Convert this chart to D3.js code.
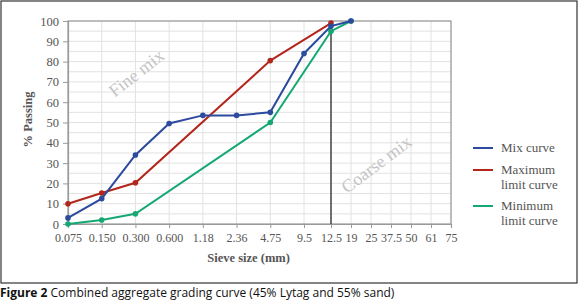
<!DOCTYPE html>
<html>
<head>
<meta charset="utf-8">
<script src="https://cdn.jsdelivr.net/npm/d3@7"></script>
<style>
  body { margin: 0; background: #fff; }
  svg { display: block; }
</style>
</head>
<body>
<div id="chart"></div>
<script>
// Sieve sizes (categories on the x axis)
const sieves = ['0.075', '0.150', '0.300', '0.600', '1.18', '2.36', '4.75', '9.5', '12.5', '19', '25', '37.5', '50', '61', '75']

// % passing for each curve
const mixCurve = [
  ['0.075', 3], ['0.150', 12.5], ['0.300', 34], ['0.600', 49.5], ['1.18', 53.5],
  ['2.36', 53.5], ['4.75', 55], ['9.5', 84], ['12.5', 97.5], ['19', 100]
]
const maxCurve = [
  ['0.075', 10], ['0.150', 15.3], ['0.300', 20.3], ['4.75', 80.5], ['12.5', 99]
]
const minCurve = [
  ['0.075', 0], ['0.150', 2], ['0.300', 5], ['4.75', 50], ['12.5', 95], ['19', 100]
]

const yTicks = [0, 10, 20, 30, 40, 50, 60, 70, 80, 90, 100]

const COLORS = {
  mix: '#2c4a9e',
  max: '#b3261c',
  min: '#16a873',
  grid: '#e2e2e2',
  frame: '#9a9a9a',
  text: '#555',
  divider: '#444'
}

const series = [
  { key: 'mix', label: ['Mix curve'], values: mixCurve },
  { key: 'max', label: ['Maximum', 'limit curve'], values: maxCurve },
  { key: 'min', label: ['Minimum', 'limit curve'], values: minCurve }
]

const W = 580, H = 300
const m = { left: 68, top: 21, right: 129, bottom: 76 }
const innerW = W - m.left - m.right
const innerH = H - m.top - m.bottom
const serif = "'Liberation Serif', 'DejaVu Serif', serif"

const svg = d3.select('#chart').append('svg')
  .attr('width', W).attr('height', H)

// cadre extérieur
svg.append('rect')
  .attr('x', 1).attr('y', 1).attr('width', 576).attr('height', 282)
  .attr('fill', 'none').attr('stroke', '#333').attr('stroke-width', 1.2)

const g = svg.append('g').attr('transform', `translate(${m.left},${m.top})`)

// x : espacement irrégulier — pas large jusqu'à 9.5, puis plus serré
const idx = d3.scaleLinear()
  .domain([0, 7, 8, 14])
  .range([0, innerW * 236 / 383, innerW * 263 / 383, innerW])
const x = s => idx(sieves.indexOf(s))

const y = d3.scaleLinear().domain([0, 100]).range([innerH, 0])

// grille horizontale (tous les 5 %)
g.append('g')
  .selectAll('line')
  .data(d3.range(5, 101, 5))
  .join('line')
  .attr('x1', 0).attr('x2', innerW)
  .attr('y1', d => y(d)).attr('y2', d => y(d))
  .attr('stroke', COLORS.grid).attr('stroke-width', 1)

// grille verticale
g.append('g')
  .selectAll('line')
  .data(sieves.slice(1))
  .join('line')
  .attr('x1', d => x(d)).attr('x2', d => x(d))
  .attr('y1', 0).attr('y2', innerH)
  .attr('stroke', COLORS.grid).attr('stroke-width', 1)

// textes en filigrane
g.append('text')
  .attr('transform', `translate(${x('0.600') - 29},${y(72)}) rotate(-38)`)
  .attr('text-anchor', 'middle')
  .attr('font-family', serif).attr('font-size', 18)
  .attr('fill', '#c4c4c4')
  .text('Fine mix')

g.append('text')
  .attr('transform', `translate(${x('37.5') - 11},${y(27)}) rotate(-37)`)
  .attr('text-anchor', 'middle')
  .attr('font-family', serif).attr('font-size', 18)
  .attr('fill', '#c4c4c4')
  .text('Coarse mix')

// cadre de la zone de tracé
g.append('rect')
  .attr('width', innerW).attr('height', innerH)
  .attr('fill', 'none').attr('stroke', COLORS.frame).attr('stroke-width', 1.2)

// séparation fin / gros à 12.5 mm
g.append('line')
  .attr('x1', x('12.5')).attr('x2', x('12.5'))
  .attr('y1', 0).attr('y2', innerH)
  .attr('stroke', COLORS.divider).attr('stroke-width', 1.5)

// Axe Y
g.append('g')
  .call(d3.axisLeft(y).tickValues(yTicks).tickSize(5).tickPadding(4))
  .call(a => a.select('.domain').attr('stroke', COLORS.frame).attr('stroke-width', 1.2))
  .call(a => a.selectAll('.tick line').attr('stroke', COLORS.frame))
  .call(a => a.selectAll('.tick text')
    .attr('fill', COLORS.text).attr('font-family', serif).attr('font-size', 12.5))

// Axe X
g.append('g')
  .attr('transform', `translate(0,${innerH})`)
  .call(d3.axisBottom(idx).tickValues(d3.range(sieves.length))
    .tickFormat(i => sieves[i]).tickSize(4).tickPadding(5))
  .call(a => a.select('.domain').attr('stroke', COLORS.frame).attr('stroke-width', 1.2))
  .call(a => a.selectAll('.tick line').attr('stroke', COLORS.frame))
  .call(a => a.selectAll('.tick text')
    .attr('fill', COLORS.text).attr('font-family', serif).attr('font-size', 12))

// titres des axes
g.append('text')
  .attr('x', x('2.36') + 12).attr('y', innerH + 38)
  .attr('text-anchor', 'middle')
  .attr('font-family', serif).attr('font-size', 12.5).attr('font-weight', 'bold')
  .attr('fill', COLORS.text)
  .text('Sieve size (mm)')

g.append('text')
  .attr('transform', `translate(-36,${innerH / 2 - 3}) rotate(-90)`)
  .attr('text-anchor', 'middle')
  .attr('font-family', serif).attr('font-size', 12.5).attr('font-weight', 'bold')
  .attr('fill', COLORS.text)
  .text('% Passing')

// courbes — la courbe du mélange dessinée en dernier, au-dessus
const line = d3.line().x(d => x(d[0])).y(d => y(d[1]))

for (const s of series.slice().reverse()) {
  g.append('path')
    .datum(s.values)
    .attr('d', line)
    .attr('fill', 'none')
    .attr('stroke', COLORS[s.key]).attr('stroke-width', 2)

  g.append('g')
    .selectAll('circle')
    .data(s.values)
    .join('circle')
    .attr('cx', d => x(d[0])).attr('cy', d => y(d[1]))
    .attr('r', 2.8)
    .attr('fill', COLORS[s.key])
}

// Légende
const legend = svg.append('g').attr('transform', 'translate(473,148)')
const rowY = [0, 22, 58]
series.forEach((s, i) => {
  const row = legend.append('g').attr('transform', `translate(0,${rowY[i]})`)
  row.append('line')
    .attr('x1', 0).attr('x2', 20).attr('y1', 0).attr('y2', 0)
    .attr('stroke', COLORS[s.key]).attr('stroke-width', 2)
  s.label.forEach((t, j) => {
    row.append('text')
      .attr('x', 28).attr('y', 4 + j * 15)
      .attr('font-family', serif).attr('font-size', 13)
      .attr('fill', COLORS.text)
      .text(t)
  })
})

// Légende de figure
const cap = svg.append('text')
  .attr('x', 0).attr('y', 297)
  .attr('font-family', "'Open Sans', 'Noto Sans', sans-serif").attr('font-size', 12)
  .attr('fill', '#111')
cap.append('tspan').attr('font-weight', 'bold').text('Figure 2')
cap.append('tspan').text(' Combined aggregate grading curve (45% Lytag and 55% sand)')
</script>
</body>
</html>
